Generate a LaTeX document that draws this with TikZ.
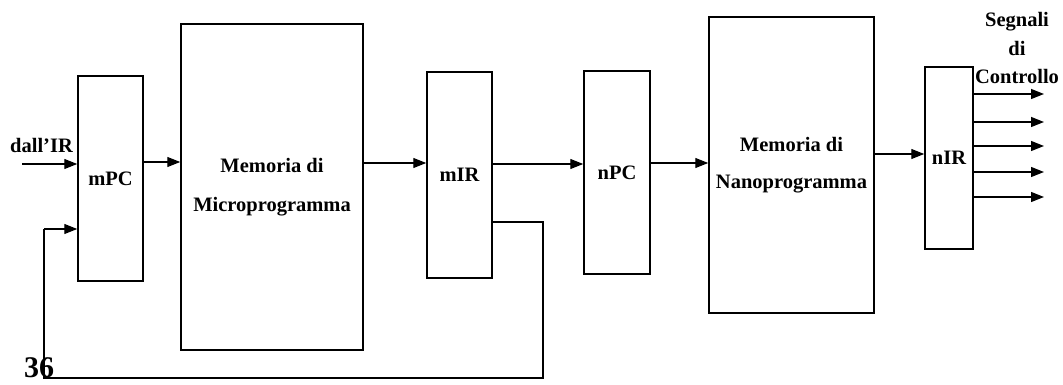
\documentclass[tikz,border=0pt]{standalone}
\usepackage{fontspec}
\setmainfont{Liberation Serif}
\usetikzlibrary{arrows.meta}
\begin{document}
\begin{tikzpicture}[x=1pt,y=-1pt,
  box/.style={draw=black,line width=1.5pt,inner sep=0pt,align=center,
    font=\fontsize{20.5}{24}\selectfont\bfseries},
  lbl/.style={inner sep=0pt,align=center,font=\fontsize{20.5}{24}\selectfont\bfseries},
  arr/.style={draw=black,line width=1.4pt,-{Triangle[length=13pt,width=10pt]}},
  ln/.style={draw=black,line width=1.4pt}]
\useasboundingbox (0,0) rectangle (1063,385);
% boxes
\node[box,minimum width=65pt,minimum height=205pt] (mpc) at (110.5,178.5) {\raisebox{-4pt}{mPC}};
\node[box,minimum width=182pt,minimum height=326pt] (mem) at (272,187) {\raisebox{-1pt}{Memoria di}\\[16pt]Microprogramma};
\node[box,minimum width=65pt,minimum height=206pt] (mir) at (459.5,175) {mIR};
\node[box,minimum width=66pt,minimum height=203pt] (npc) at (617,172.5) {nPC};
\node[box,minimum width=165pt,minimum height=296pt] (nano) at (791.5,165) {\raisebox{-3pt}{Memoria di}\\[13pt]\raisebox{-3pt}{Nanoprogramma}};
\node[box,minimum width=48pt,minimum height=182pt] (nir) at (949,158) {nIR};
% labels
\node[lbl,anchor=base west] (dall) at (10,153) {dall’IR};
\node[lbl] (segn) at (1017,48) {Segnali\\[5pt]di\\[4pt]Controllo};
\node[lbl,anchor=base west,font=\fontsize{30}{34}\selectfont\bfseries] (num) at (24,377) {36};
% connectors
\coordinate (in) at (22,164);
\draw[arr] (in) -- (mpc.west |- in);
\draw[arr] (mpc.east |- 0,162) -- (mem.west |- 0,162);
\draw[arr] (mem.east |- 0,163) -- (mir.west |- 0,163);
\draw[arr] (mir.east |- 0,164) -- (npc.west |- 0,164);
\draw[arr] (npc.east |- 0,163) -- (nano.west |- 0,163);
\draw[arr] (nano.east |- 0,154) -- (nir.west |- 0,154);
\foreach \yy/\nm in {94/o1,122/o2,146/o3,172/o4,197/o5}{
  \coordinate (\nm) at (1044,\yy);
  \draw[arr] (nir.east |- \nm) -- (\nm);
}
% feedback
\coordinate (f1) at (543,222);
\coordinate (f2) at (543,378);
\coordinate (f3) at (44,378);
\coordinate (f4) at (44,229);
\draw[ln] (mir.east |- f1) -- (f1) -- (f2) -- (f3) -- (f4);
\draw[arr] (f4) -- (mpc.west |- f4);
\end{tikzpicture}
\end{document}
